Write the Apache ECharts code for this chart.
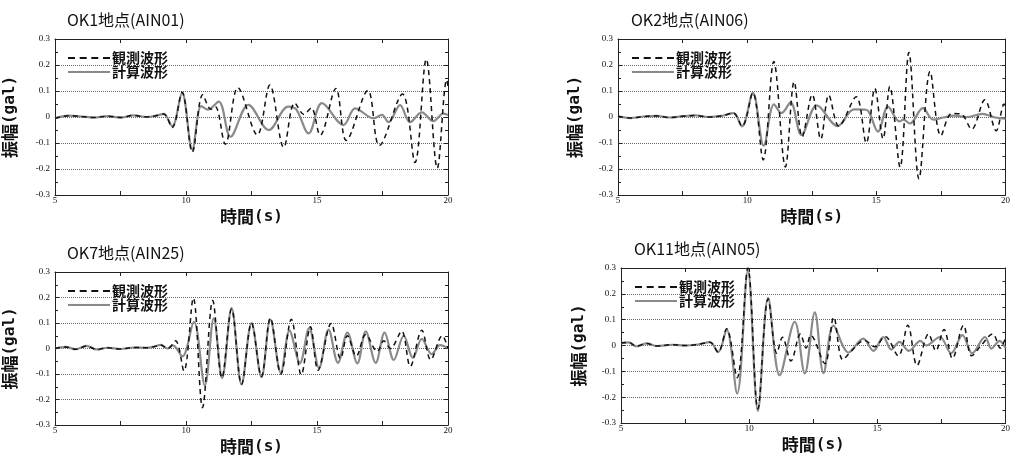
<!DOCTYPE html>
<html>
<head>
<meta charset="utf-8">
<script src="https://cdn.jsdelivr.net/npm/echarts@6/dist/echarts.min.js"></script>
<style>
  html, body { margin: 0; padding: 0; background: #fff; }
  #main { width: 1013px; height: 456px; }
</style>
</head>
<body>
<div id="main"></div>
<script>
// panel titles & legend names
const titles = ['OK1地点(AIN01)', 'OK2地点(AIN06)', 'OK7地点(AIN25)', 'OK11地点(AIN05)'];
const seriesNames = ['観測波形', '計算波形'];

// [time(s), amplitude(gal)] (peaks / troughs)
const ok1Obs = [[5,-0.005],[5.5,0.005],[6,0.002],[6.5,-0.002],[7,0.003],[7.5,-0.002],[8,0.006],[8.5,0.0],[8.9,0.006],[9.15,0.012],[9.47,-0.04],[9.85,0.095],[10.24,-0.135],[10.64,0.086],[10.95,0.03],[11.12,0.04],[11.5,-0.105],[11.98,0.113],[12.72,-0.069],[13.2,0.123],[13.73,-0.117],[14.15,0.054],[14.5,0.01],[14.78,0.035],[15.12,-0.07],[15.72,0.11],[16.12,-0.09],[16.94,0.102],[17.38,-0.11],[18.26,0.088],[18.74,-0.175],[19.17,0.222],[19.59,-0.197],[19.95,0.143],[20,0.12]];
const ok1Calc = [[5,-0.005],[5.5,0.005],[6,0.002],[6.5,-0.002],[7,0.003],[7.5,-0.002],[8,0.006],[8.5,0.0],[8.9,0.006],[9.15,0.012],[9.47,-0.036],[9.85,0.093],[10.24,-0.125],[10.58,0.042],[10.83,0.028],[11.25,0.059],[11.7,-0.076],[12.38,0.047],[13.16,-0.05],[13.9,0.04],[14.2,0.03],[14.68,-0.063],[15.19,0.053],[16.01,-0.031],[16.46,0.033],[17.16,-0.005],[17.48,0.008],[17.73,-0.02],[18.17,0.046],[18.55,-0.02],[19.0,0.018],[19.44,-0.016],[19.82,0.013],[20,0.008]];

const ok2Obs = [[5,0.003],[5.5,-0.004],[6,0.002],[6.5,0.004],[7,-0.002],[7.5,0.003],[8,0.006],[8.5,0.0],[9,0.004],[9.47,0.015],[9.8,-0.036],[10.22,0.093],[10.62,-0.165],[11.03,0.213],[11.48,-0.192],[11.82,0.136],[12.13,-0.076],[12.52,0.086],[12.85,-0.085],[13.16,0.084],[13.55,-0.035],[14.22,0.078],[14.61,-0.1],[14.94,0.11],[15.26,-0.084],[15.52,0.117],[15.92,-0.193],[16.26,0.248],[16.65,-0.238],[17.08,0.175],[17.5,-0.072],[17.92,0.014],[18.3,0.01],[18.69,-0.047],[19.2,0.066],[19.64,-0.053],[19.95,0.05],[20,0.04]];
const ok2Calc = [[5,0.003],[5.5,-0.004],[6,0.002],[6.5,0.004],[7,-0.002],[7.5,0.003],[8,0.006],[8.5,0.0],[9,0.004],[9.47,0.015],[9.8,-0.036],[10.22,0.093],[10.64,-0.11],[11.04,0.049],[11.33,0.015],[11.68,0.056],[12.1,-0.069],[12.7,0.045],[13.5,-0.035],[14.14,0.029],[14.6,0.028],[15.06,-0.056],[15.45,0.04],[15.89,-0.017],[16.05,-0.01],[16.3,-0.025],[16.8,0.034],[17.2,-0.01],[17.6,-0.002],[18.0,0.005],[18.5,0.0],[19.1,0.012],[19.6,-0.002],[20,-0.006]];

const ok7Obs = [[5,0.0],[5.4,0.006],[5.8,-0.003],[6.2,0.01],[6.6,-0.004],[7,0.003],[7.5,-0.002],[8,0.004],[8.5,0.003],[8.8,0.008],[9.03,0.014],[9.3,0.0],[9.6,0.03],[9.92,-0.088],[10.28,0.198],[10.63,-0.232],[11.02,0.188],[11.37,-0.115],[11.74,0.155],[12.12,-0.14],[12.5,0.1],[12.88,-0.11],[13.22,0.12],[13.62,-0.1],[14.02,0.115],[14.4,-0.103],[14.75,0.085],[15.04,-0.085],[15.54,0.098],[15.9,-0.04],[16.16,0.05],[16.5,-0.03],[16.86,0.055],[17.3,-0.012],[17.55,0.03],[17.8,0.0],[18.23,0.068],[18.56,-0.07],[19.0,0.072],[19.34,-0.044],[19.78,0.05],[20,0.0]];
const ok7Calc = [[5,0.0],[5.4,0.006],[5.8,-0.003],[6.2,0.01],[6.6,-0.004],[7,0.003],[7.5,-0.002],[8,0.004],[8.5,0.003],[8.8,0.008],[9.03,0.014],[9.3,0.0],[9.5,0.012],[9.86,-0.031],[10.3,0.105],[10.72,-0.145],[11.06,0.118],[11.38,-0.116],[11.74,0.158],[12.12,-0.141],[12.5,0.1],[12.88,-0.112],[13.22,0.113],[13.62,-0.095],[13.95,0.07],[14.35,-0.057],[14.7,0.08],[15.08,-0.076],[15.44,0.074],[15.8,-0.056],[16.16,0.062],[16.54,-0.058],[16.86,0.067],[17.24,-0.056],[17.58,0.062],[17.93,-0.045],[18.31,0.05],[18.66,-0.037],[19.0,0.038],[19.38,-0.022],[19.7,0.013],[20,0.002]];

const ok11Obs = [[5,0.01],[5.3,0.012],[5.6,-0.003],[6,0.008],[6.4,-0.002],[7,0.003],[7.5,0.0],[8,0.004],[8.47,0.013],[8.79,-0.026],[9.12,0.065],[9.53,-0.125],[9.95,0.3],[10.34,-0.245],[10.74,0.18],[11.08,-0.03],[11.3,0.032],[11.63,-0.06],[12.0,0.045],[12.22,-0.01],[12.4,0.04],[12.95,-0.07],[13.3,0.11],[13.65,-0.055],[14.0,-0.02],[14.5,0.02],[14.9,-0.005],[15.3,0.035],[15.82,-0.04],[16.19,0.078],[16.55,-0.077],[17.0,0.045],[17.28,-0.02],[17.6,0.062],[17.93,-0.05],[18.36,0.078],[18.68,-0.04],[19.05,0.0],[19.5,0.045],[19.8,-0.01],[20,0.03]];
const ok11Calc = [[5,0.01],[5.3,0.012],[5.6,-0.003],[6,0.008],[6.4,-0.002],[7,0.003],[7.5,0.0],[8,0.004],[8.47,0.013],[8.79,-0.026],[9.12,0.062],[9.53,-0.186],[9.95,0.29],[10.34,-0.253],[10.74,0.184],[11.19,-0.115],[11.78,0.092],[12.17,-0.108],[12.56,0.128],[12.9,-0.107],[13.29,0.077],[13.88,-0.027],[14.45,0.027],[14.85,-0.021],[15.23,0.033],[15.55,-0.016],[15.86,0.014],[16.23,-0.021],[16.68,0.018],[16.9,0.0],[17.44,0.033],[17.88,-0.03],[18.32,0.04],[18.7,-0.03],[19.2,0.033],[19.45,-0.012],[19.77,0.018],[20,-0.01]];

const obsData = [ok1Obs, ok2Obs, ok7Obs, ok11Obs];
const calcData = [ok1Calc, ok2Calc, ok7Calc, ok11Calc];

// layout of the four plots
const grids = [
  { left: 54, top: 39, width: 394, height: 156 },
  { left: 618, top: 39, width: 393, height: 156 },
  { left: 54, top: 272, width: 394, height: 154 },
  { left: 621, top: 268, width: 395, height: 155 }
];
const yNameGap = [37, 35, 37, 34];

const chart = echarts.init(document.getElementById('main'));
const tickFont = { fontFamily: 'Liberation Serif', fontSize: 9, color: '#111' };
const nameFont = {
  fontSize: 17, fontWeight: 'bold', color: '#111',
  rich: {
    j: { fontFamily: 'Noto Sans CJK JP', fontSize: 17, fontWeight: 'bold', color: '#111' },
    m: { fontFamily: 'DejaVu Sans Mono', fontSize: 16, fontWeight: 'bold', color: '#111' }
  }
};
// legend marks: 4 dashes for 観測波形, plain bar for 計算波形
const dashIcon = 'path://M0,0h7v2h-7z M11.7,0h7v2h-7z M23.3,0h7v2h-7z M35,0h7v2h-7z';

const option = {
  animation: false,
  backgroundColor: '#fff',
  title: [],
  legend: [],
  grid: [],
  xAxis: [],
  yAxis: [],
  series: []
};

grids.forEach((g, i) => {
  option.grid.push({ left: g.left, top: g.top, width: g.width, height: g.height, show: false });
  option.title.push({
    text: titles[i],
    left: g.left + 13,
    top: g.top - 27,
    padding: 0,
    textStyle: { fontFamily: 'Noto Sans CJK JP', fontSize: 16, fontWeight: 'normal', color: '#111' }
  });
  option.legend.push({
    left: g.left + 14,
    top: g.top + 12,
    orient: 'vertical',
    itemWidth: 42,
    itemHeight: 2,
    itemGap: 0,
    padding: 0,
    symbolKeepAspect: false,
    selectedMode: false,
    textStyle: { fontFamily: 'Noto Sans CJK JP', fontSize: 14, fontWeight: 'bold', color: '#111', lineHeight: 13, padding: [0, 0, 0, -3] },
    data: [
      { name: seriesNames[0], icon: dashIcon, itemStyle: { color: '#111' } },
      { name: seriesNames[1], icon: 'rect', itemStyle: { color: '#8a8a8a' } }
    ]
  });
  // bottom axis
  option.xAxis.push({
    type: 'value', gridIndex: i, min: 5, max: 20, interval: 5, position: 'bottom',
    name: '{j|時間}{m|(s)}', nameLocation: 'middle', nameGap: 13, nameTextStyle: nameFont,
    axisLine: { onZero: false, lineStyle: { color: '#222', width: 1 } },
    axisTick: { inside: true, length: 4, lineStyle: { color: '#222' } },
    minorTick: { show: true, splitNumber: 2, length: 4, lineStyle: { color: '#222' } },
    axisLabel: { margin: 1, showMinLabel: true, showMaxLabel: true, ...tickFont },
    splitLine: { show: false }
  });
  // top frame
  option.xAxis.push({
    type: 'value', gridIndex: i, min: 5, max: 20, interval: 5, position: 'top',
    axisLine: { onZero: false, lineStyle: { color: '#222', width: 1 } },
    axisTick: { inside: true, length: 4, lineStyle: { color: '#222' } },
    minorTick: { show: true, splitNumber: 2, length: 4, lineStyle: { color: '#222' } },
    axisLabel: { show: false },
    splitLine: { show: false }
  });
  // left axis
  option.yAxis.push({
    type: 'value', gridIndex: i, min: -0.3, max: 0.3, interval: 0.1, position: 'left',
    name: '{j|振幅}{m|(gal)}', nameLocation: 'middle', nameGap: yNameGap[i], nameTextStyle: nameFont,
    axisLine: { onZero: false, lineStyle: { color: '#222', width: 1 } },
    axisTick: { inside: true, length: 4, lineStyle: { color: '#222' } },
    minorTick: { show: true, splitNumber: 2, length: 3, lineStyle: { color: '#222' } },
    axisLabel: { margin: 5, showMinLabel: true, showMaxLabel: true, ...tickFont },
    splitLine: { show: true, lineStyle: { type: 'dotted', color: '#666', width: 1 } }
  });
  // right frame
  option.yAxis.push({
    type: 'value', gridIndex: i, min: -0.3, max: 0.3, interval: 0.1, position: 'right',
    axisLine: { onZero: false, lineStyle: { color: '#222', width: 1 } },
    axisTick: { inside: true, length: 4, lineStyle: { color: '#222' } },
    minorTick: { show: true, splitNumber: 2, length: 3, lineStyle: { color: '#222' } },
    axisLabel: { show: false },
    splitLine: { show: false }
  });
  option.series.push({
    name: seriesNames[1], type: 'line', xAxisIndex: 2 * i, yAxisIndex: 2 * i,
    data: calcData[i], symbol: 'none', smooth: 0.35, z: 3,
    lineStyle: { color: '#8a8a8a', width: 2.2 }, itemStyle: { color: '#8a8a8a' }
  });
  option.series.push({
    name: seriesNames[0], type: 'line', xAxisIndex: 2 * i, yAxisIndex: 2 * i,
    data: obsData[i], symbol: 'none', smooth: 0.35, z: 4,
    lineStyle: { color: '#111', width: 1.5, type: [5, 4] }, itemStyle: { color: '#111' }
  });
});

chart.setOption(option);
window.addEventListener('resize', () => {
  chart.resize();
});
</script>
</body>
</html>
